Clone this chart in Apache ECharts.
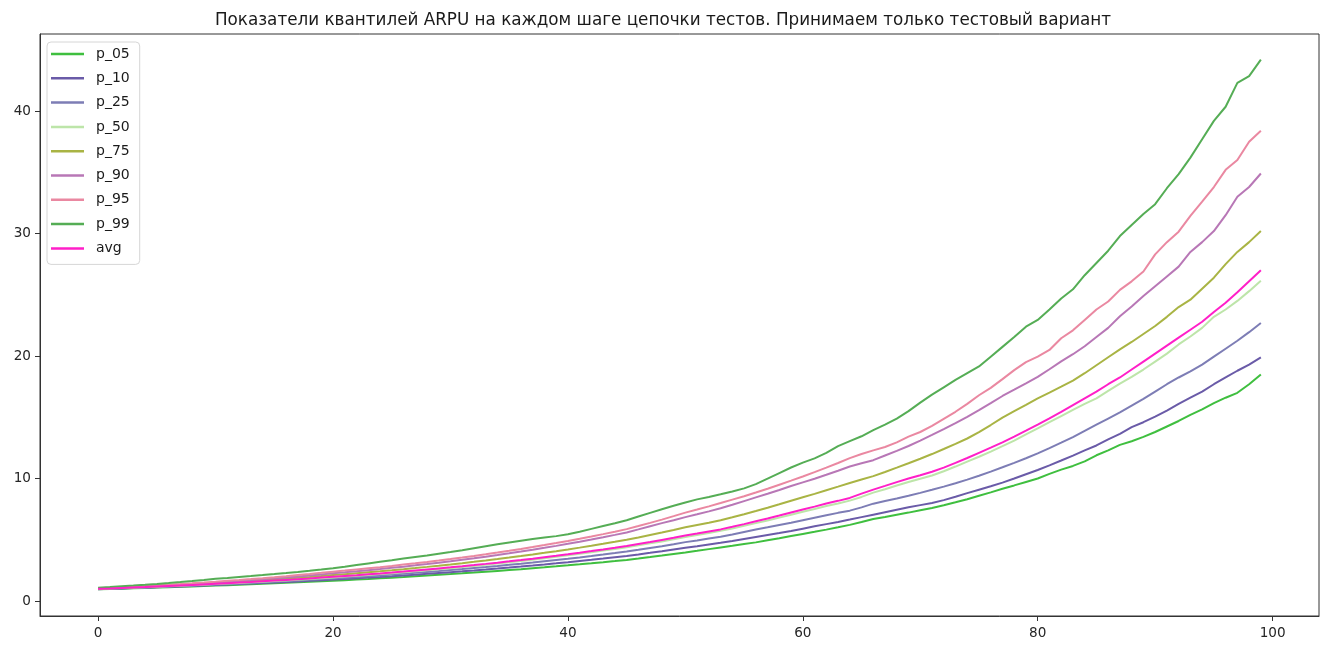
<!DOCTYPE html>
<html>
<head>
<meta charset="utf-8">
<script src="https://cdn.jsdelivr.net/npm/echarts@6/dist/echarts.min.js"></script>
<style>html,body{margin:0;padding:0;background:#fff;}#c{width:1326px;height:646px;}</style>
</head>
<body>
<div id="c"></div>
<script>
const steps = Array.from({length: 100}, (_, i) => i);
const xTicks = [0, 20, 40, 60, 80, 100];
const yTicks = [0, 10, 20, 30, 40];
const titleText = 'Показатели квантилей ARPU на каждом шаге цепочки тестов. Принимаем только тестовый вариант';
const seriesNames = ['p_05','p_10','p_25','p_50','p_75','p_90','p_95','p_99','avg'];

const p_05 = [0.96,0.987,1.014,1.042,1.071,1.101,1.132,1.163,1.196,1.229,
1.263,1.298,1.334,1.371,1.409,1.449,1.489,1.53,1.573,1.617,
1.66,1.707,1.756,1.806,1.858,1.911,1.966,2.022,2.08,2.139,
2.2,2.263,2.328,2.395,2.463,2.534,2.606,2.681,2.757,2.836,
2.917,3.001,3.087,3.175,3.266,3.36,3.475,3.593,3.716,3.843,
3.97,4.1,4.24,4.38,4.51,4.65,4.79,4.96,5.13,5.31,
5.48,5.65,5.83,6.02,6.22,6.45,6.7,6.87,7.05,7.22,
7.41,7.6,7.82,8.06,8.31,8.59,8.87,9.17,9.44,9.72,
10.0,10.38,10.73,11.03,11.4,11.9,12.3,12.75,13.05,13.4,
13.8,14.25,14.7,15.2,15.65,16.15,16.6,17.0,17.7,18.5];

const p_10 = [0.97,0.999,1.029,1.06,1.092,1.124,1.158,1.193,1.228,1.265,
1.303,1.342,1.382,1.424,1.466,1.51,1.555,1.602,1.65,1.699,
1.75,1.803,1.857,1.913,1.971,2.031,2.092,2.155,2.22,2.287,
2.356,2.427,2.5,2.576,2.653,2.734,2.816,2.901,2.989,3.079,
3.172,3.268,3.366,3.468,3.573,3.68,3.805,3.935,4.07,4.21,
4.35,4.48,4.62,4.76,4.91,5.07,5.23,5.39,5.55,5.72,
5.91,6.1,6.28,6.46,6.65,6.85,7.05,7.25,7.45,7.65,
7.83,8.01,8.24,8.52,8.81,9.09,9.37,9.67,10.0,10.35,
10.7,11.08,11.47,11.87,12.3,12.7,13.2,13.65,14.2,14.6,
15.05,15.55,16.1,16.6,17.1,17.7,18.25,18.8,19.3,19.9];

const p_25 = [0.98,1.012,1.044,1.078,1.113,1.149,1.186,1.224,1.264,1.305,
1.347,1.39,1.435,1.482,1.53,1.579,1.63,1.683,1.737,1.793,
1.85,1.909,1.969,2.032,2.096,2.163,2.231,2.302,2.375,2.45,
2.528,2.608,2.691,2.776,2.864,2.955,3.049,3.145,3.245,3.348,
3.454,3.564,3.677,3.793,3.914,4.04,4.18,4.33,4.48,4.64,
4.81,4.95,5.1,5.25,5.44,5.64,5.84,6.02,6.21,6.4,
6.6,6.8,7.0,7.2,7.38,7.65,7.95,8.16,8.37,8.59,
8.83,9.08,9.34,9.62,9.91,10.23,10.57,10.92,11.28,11.66,
12.05,12.48,12.93,13.39,13.9,14.4,14.9,15.4,15.95,16.5,
17.1,17.7,18.25,18.75,19.3,19.95,20.6,21.25,21.95,22.7];

const p_50 = [0.99,1.024,1.058,1.094,1.131,1.17,1.209,1.25,1.293,1.337,
1.382,1.429,1.477,1.527,1.579,1.633,1.688,1.745,1.805,1.866,
1.93,1.995,2.061,2.13,2.202,2.275,2.352,2.43,2.512,2.596,
2.683,2.773,2.866,2.962,3.061,3.164,3.27,3.379,3.492,3.609,
3.73,3.855,3.984,4.118,4.256,4.4,4.55,4.71,4.87,5.04,
5.22,5.39,5.56,5.73,5.93,6.14,6.36,6.58,6.81,7.05,
7.29,7.52,7.76,7.97,8.2,8.5,8.85,9.13,9.43,9.72,
9.98,10.25,10.6,10.98,11.38,11.78,12.2,12.64,13.1,13.6,
14.1,14.6,15.1,15.6,16.1,16.55,17.15,17.75,18.3,18.9,
19.55,20.2,20.95,21.6,22.3,23.2,23.8,24.5,25.3,26.15];

const p_75 = [1.0,1.038,1.078,1.119,1.162,1.207,1.253,1.301,1.351,1.403,
1.456,1.512,1.57,1.63,1.692,1.757,1.824,1.894,1.967,2.042,
2.12,2.194,2.271,2.35,2.432,2.517,2.605,2.696,2.79,2.888,
2.989,3.093,3.201,3.313,3.429,3.549,3.673,3.801,3.934,4.071,
4.213,4.361,4.513,4.671,4.834,5.0,5.19,5.39,5.59,5.8,
6.02,6.21,6.4,6.6,6.84,7.09,7.35,7.62,7.9,8.19,
8.47,8.75,9.05,9.34,9.64,9.92,10.2,10.54,10.89,11.25,
11.62,12.0,12.41,12.83,13.27,13.79,14.37,14.98,15.5,16.02,
16.55,17.02,17.5,18.0,18.6,19.25,19.9,20.55,21.15,21.8,
22.45,23.2,24.0,24.6,25.5,26.4,27.5,28.5,29.3,30.2];

const p_90 = [1.02,1.061,1.104,1.149,1.196,1.245,1.295,1.348,1.403,1.46,
1.519,1.581,1.645,1.712,1.781,1.853,1.929,2.007,2.088,2.173,
2.26,2.344,2.43,2.52,2.613,2.71,2.81,2.914,3.022,3.133,
3.249,3.369,3.494,3.623,3.757,3.896,4.04,4.189,4.344,4.505,
4.671,4.844,5.023,5.209,5.401,5.6,5.85,6.11,6.36,6.6,
6.85,7.08,7.32,7.57,7.86,8.16,8.46,8.76,9.07,9.39,
9.69,9.99,10.31,10.64,10.98,11.25,11.5,11.88,12.26,12.66,
13.1,13.56,14.04,14.53,15.04,15.58,16.15,16.74,17.25,17.77,
18.3,18.92,19.57,20.15,20.8,21.55,22.3,23.25,24.05,24.9,
25.7,26.5,27.3,28.5,29.3,30.2,31.5,33.0,33.8,34.9];

const p_95 = [1.04,1.084,1.131,1.179,1.229,1.282,1.337,1.394,1.453,1.515,
1.58,1.648,1.718,1.791,1.868,1.948,2.031,2.118,2.208,2.302,
2.4,2.487,2.578,2.672,2.769,2.87,2.975,3.083,3.195,3.312,
3.432,3.557,3.687,3.821,3.96,4.105,4.254,4.409,4.57,4.736,
4.909,5.087,5.273,5.465,5.664,5.87,6.12,6.38,6.65,6.93,
7.22,7.47,7.73,8.0,8.28,8.56,8.86,9.17,9.5,9.83,
10.17,10.52,10.89,11.27,11.67,12.0,12.3,12.58,12.95,13.42,
13.8,14.3,14.88,15.45,16.1,16.8,17.4,18.12,18.85,19.5,
19.95,20.5,21.45,22.1,22.95,23.8,24.45,25.4,26.1,26.9,
28.3,29.3,30.15,31.45,32.6,33.8,35.2,36.0,37.5,38.4];

const p_99 = [1.08,1.138,1.199,1.263,1.331,1.402,1.477,1.556,1.64,1.728,
1.82,1.891,1.965,2.041,2.121,2.204,2.29,2.379,2.472,2.569,
2.67,2.8,2.94,3.07,3.2,3.33,3.47,3.6,3.72,3.86,
4.0,4.15,4.31,4.47,4.63,4.78,4.93,5.06,5.18,5.3,
5.45,5.66,5.89,6.12,6.35,6.6,6.9,7.2,7.5,7.78,
8.05,8.3,8.5,8.72,8.95,9.2,9.55,10.0,10.45,10.9,
11.3,11.65,12.1,12.65,13.05,13.45,13.95,14.4,14.9,15.5,
16.2,16.85,17.45,18.05,18.6,19.15,19.95,20.75,21.55,22.4,
22.95,23.8,24.7,25.45,26.6,27.6,28.6,29.8,30.7,31.6,
32.4,33.7,34.85,36.2,37.7,39.2,40.35,42.3,42.85,44.2];

const avg = [1.0,1.035,1.071,1.108,1.146,1.186,1.227,1.27,1.314,1.359,
1.406,1.455,1.506,1.558,1.612,1.668,1.726,1.786,1.848,1.913,
1.98,2.046,2.114,2.185,2.258,2.333,2.411,2.492,2.575,2.661,
2.75,2.842,2.937,3.035,3.136,3.241,3.349,3.461,3.577,3.696,
3.82,3.947,4.079,4.215,4.356,4.5,4.66,4.82,4.99,5.16,
5.35,5.51,5.68,5.85,6.06,6.28,6.51,6.74,6.98,7.23,
7.47,7.71,7.96,8.18,8.42,8.77,9.1,9.4,9.71,10.0,
10.27,10.55,10.89,11.28,11.68,12.1,12.52,12.96,13.43,13.91,
14.4,14.92,15.45,16.0,16.55,17.1,17.7,18.25,18.9,19.55,
20.2,20.85,21.5,22.15,22.8,23.6,24.35,25.2,26.1,27.0];

const seriesValues = [p_05, p_10, p_25, p_50, p_75, p_90, p_95, p_99, avg];
const seriesColors = ['#3fbf3f','#6a5ba8','#7d7db5','#bde5a9','#a9b444','#b877b6','#ea88a1','#55ad55','#ff1fc8'];

const chart = echarts.init(document.getElementById('c'), null, {renderer: 'canvas'});
const font = 'DejaVu Sans';
chart.setOption({
  animation: false,
  backgroundColor: '#ffffff',
  title: {
    text: titleText,
    left: 'center',
    top: 7,
    textStyle: {fontFamily: font, fontSize: 16.8, fontWeight: 'normal', color: '#1a1a1a'}
  },
  legend: {
    orient: 'vertical',
    left: 47,
    top: 42,
    data: seriesNames,
    icon: 'rect',
    itemWidth: 33,
    itemHeight: 2.5,
    itemGap: 8.3,
    padding: [4, 10, 8, 4],
    borderColor: '#d6d6d6',
    borderWidth: 1,
    borderRadius: 4,
    backgroundColor: 'rgba(255,255,255,0.8)',
    textStyle: {fontFamily: font, fontSize: 14, color: '#1a1a1a', lineHeight: 16, padding: [0, 0, 0, 7]}
  },
  grid: {
    left: 40, right: 7, top: 34, bottom: 30,
    show: true, borderColor: '#333333', borderWidth: 1, backgroundColor: 'transparent'
  },
  xAxis: {
    type: 'value',
    min: -4.95, max: 103.95,
    axisLine: {show: true, onZero: false, lineStyle: {color: '#333333'}},
    axisTick: {show: true, length: 5, lineStyle: {color: '#333333'}, customValues: xTicks},
    axisLabel: {customValues: xTicks, fontFamily: font, fontSize: 13.6, color: '#262626', margin: 10},
    splitLine: {show: false}
  },
  yAxis: {
    type: 'value',
    min: -1.22, max: 46.29,
    axisLine: {show: true, onZero: false, lineStyle: {color: '#333333'}},
    axisTick: {show: true, length: 5, lineStyle: {color: '#333333'}, customValues: yTicks},
    axisLabel: {customValues: yTicks, fontFamily: font, fontSize: 13.6, color: '#262626', margin: 9},
    splitLine: {show: false}
  },
  series: seriesNames.map((name, k) => ({
    name: name,
    type: 'line',
    data: steps.map(i => [steps[i], seriesValues[k][i]]),
    showSymbol: false,
    symbol: 'none',
    lineStyle: {width: 2, color: seriesColors[k]},
    itemStyle: {color: seriesColors[k]},
    emphasis: {disabled: true}
  }))
});
</script>
</body>
</html>
